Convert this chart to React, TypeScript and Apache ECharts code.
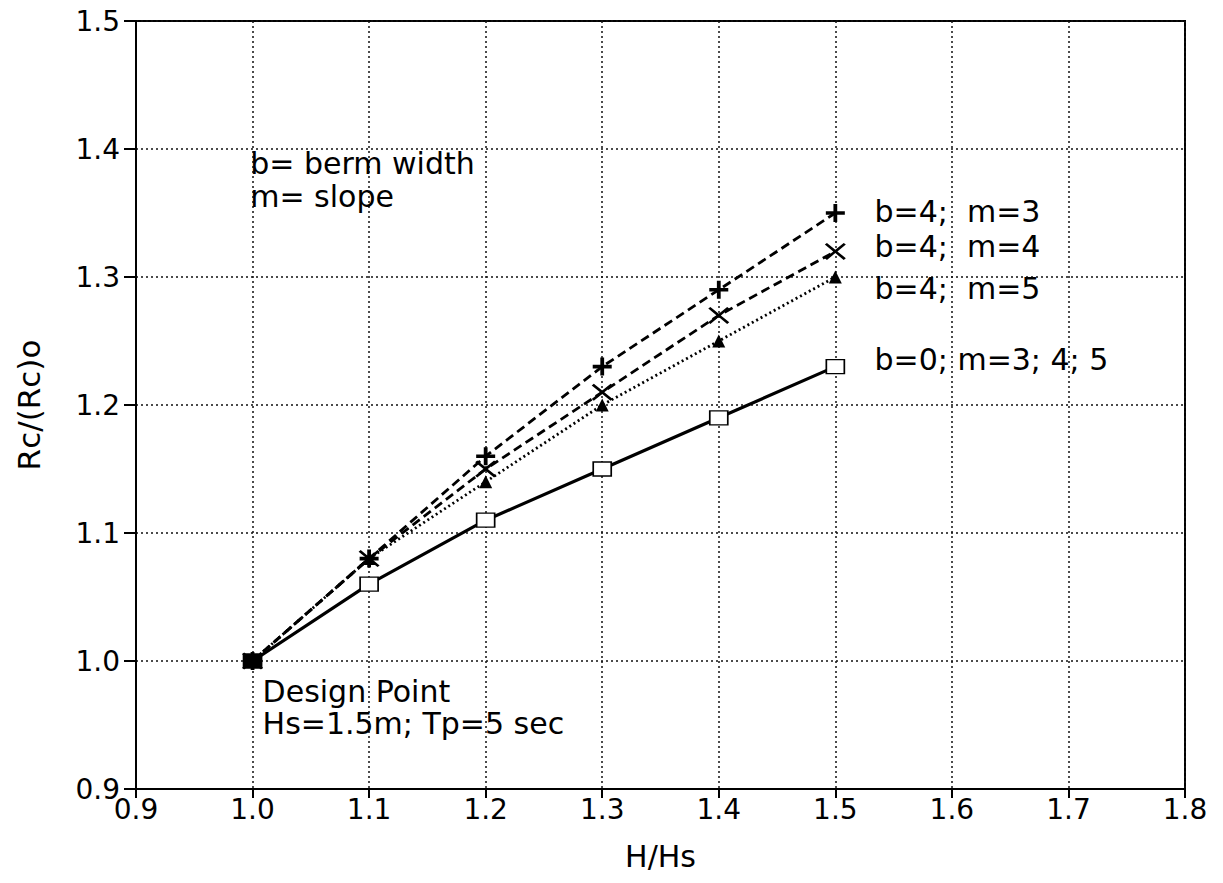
import React, { useEffect, useRef } from "react";
import * as echarts from "echarts";

const xValues = [1.0, 1.1, 1.2, 1.3, 1.4, 1.5];
const b4m3 = [1.0, 1.08, 1.16, 1.23, 1.29, 1.35];
const b4m4 = [1.0, 1.08, 1.15, 1.21, 1.27, 1.32];
const b4m5 = [1.0, 1.08, 1.14, 1.2, 1.25, 1.3];
const b0 = [1.0, 1.06, 1.11, 1.15, 1.19, 1.23];

const annotations: [number, number, string][] = [
  [0.998, 1.389, "b= berm width"],
  [0.998, 1.363, "m= slope"],
  [1.0086, 0.9758, "Design Point"],
  [1.0086, 0.9508, "Hs=1.5m; Tp=5 sec"],
  [1.5336, 1.3508, "b=4;  m=3"],
  [1.5336, 1.3242, "b=4;  m=4"],
  [1.5336, 1.2914, "b=4;  m=5"],
  [1.5336, 1.2359, "b=0; m=3; 4; 5"],
];

const FONT = "DejaVu Sans";
const PLUS = "path://M8,0H12V8H20V12H12V20H8V12H0V8H8Z";
const CROSS =
  "path://M0,10 L10,0 L50,40 L90,0 L100,10 L60,50 L100,90 L90,100 L50,60 L10,100 L0,90 L40,50 Z";

export default function App() {
  const ref = useRef<HTMLDivElement>(null);
  useEffect(() => {
    document.body.style.margin = "0";
    const chart = echarts.init(ref.current!, null, { renderer: "svg" });
    const pair = (ys: number[]) => xValues.map((x, i) => [x, ys[i]]);
    const splitLine = {
      show: true,
      lineStyle: { color: "#111", width: 1.5, type: [2, 3] as any },
    };
    chart.setOption({
      animation: false,
      backgroundColor: "#fff",
      grid: {
        left: 136,
        right: 38,
        top: 21,
        bottom: 94,
        show: true,
        borderColor: "#000",
        borderWidth: 2,
        backgroundColor: "transparent",
      },
      xAxis: {
        type: "value",
        min: 0.9,
        max: 1.8,
        interval: 0.1,
        name: "H/Hs",
        nameLocation: "middle",
        nameGap: 52,
        nameTextStyle: { fontFamily: FONT, fontSize: 30, color: "#000" },
        axisLine: { show: true, lineStyle: { color: "#000", width: 2 } },
        axisTick: { show: true, length: 9, lineStyle: { color: "#000", width: 2 } },
        axisLabel: {
          fontFamily: FONT,
          fontSize: 28,
          color: "#000",
          margin: 6,
          formatter: (v: number) => v.toFixed(1),
        },
        splitLine,
      },
      yAxis: {
        type: "value",
        min: 0.9,
        max: 1.5,
        interval: 0.1,
        name: "Rc/(Rc)o",
        nameLocation: "middle",
        nameGap: 92,
        nameRotate: 90,
        nameTextStyle: { fontFamily: FONT, fontSize: 31, color: "#000" },
        axisLine: { show: true, lineStyle: { color: "#000", width: 2 } },
        axisTick: { show: true, length: 12, lineStyle: { color: "#000", width: 2 } },
        axisLabel: {
          fontFamily: FONT,
          fontSize: 28,
          color: "#000",
          margin: 16,
          formatter: (v: number) => v.toFixed(1),
        },
        splitLine,
      },
      series: [
        {
          type: "line",
          data: pair(b0).map((d, i) =>
            i === 0 ? { value: d, itemStyle: { color: "#000" } } : d
          ),
          symbol: "rect",
          symbolSize: [18, 14],
          itemStyle: { color: "#fff", borderColor: "#000", borderWidth: 1.5 },
          lineStyle: { color: "#000", width: 3.2, type: "solid" },
          z: 3,
        },
        {
          type: "line",
          data: pair(b4m5),
          symbol: "triangle",
          symbolSize: 13,
          itemStyle: { color: "#000", borderWidth: 0 },
          lineStyle: { color: "#000", width: 2.8, type: [2, 3] },
          z: 4,
        },
        {
          type: "line",
          data: pair(b4m4),
          symbol: CROSS,
          symbolSize: [21, 17],
          itemStyle: { color: "#000", borderWidth: 0 },
          lineStyle: { color: "#000", width: 2.8, type: [9, 5] },
          z: 4,
        },
        {
          type: "line",
          data: pair(b4m3),
          symbol: PLUS,
          symbolSize: [19, 18],
          itemStyle: { color: "#000", borderWidth: 0 },
          lineStyle: { color: "#000", width: 2.8, type: [9, 5] },
          z: 4,
        },
        {
          type: "scatter",
          data: annotations.map((a) => [a[0], a[1], a[2]]),
          symbolSize: 0,
          silent: true,
          itemStyle: { opacity: 1 },
          label: {
            show: true,
            position: "right",
            distance: 0,
            fontFamily: FONT,
            fontSize: 30,
            color: "#000",
            formatter: (p: any) => p.value[2],
          },
          z: 5,
        },
      ],
    });
    return () => chart.dispose();
  }, []);
  return <div ref={ref} style={{ width: 1223, height: 883 }} />;
}
